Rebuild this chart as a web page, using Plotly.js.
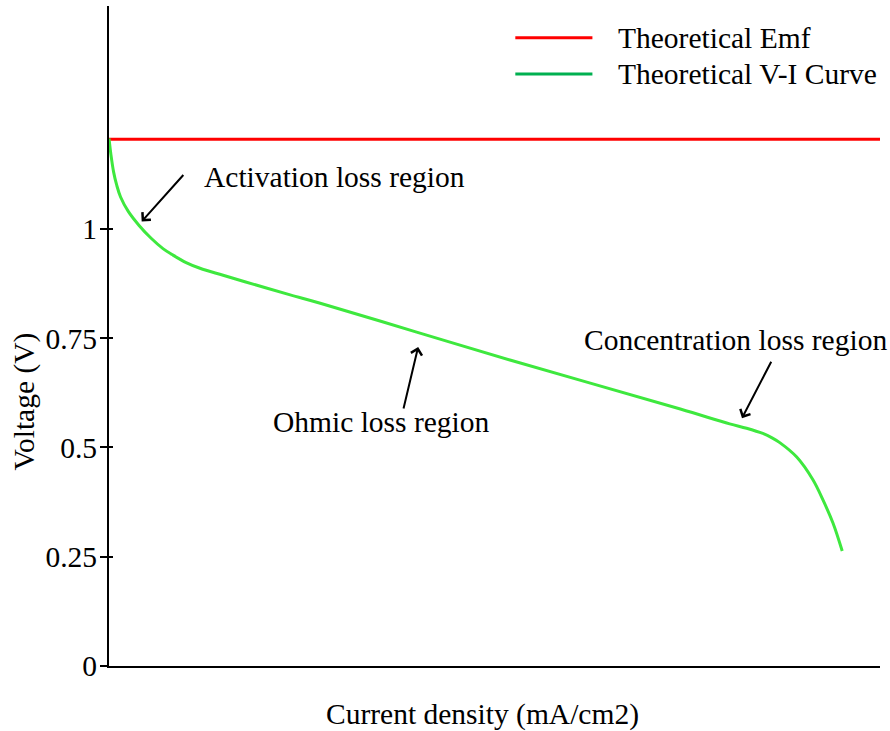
<!DOCTYPE html>
<html>
<head>
<meta charset="utf-8">
<script src="https://cdn.plot.ly/plotly-3.0.1.min.js"></script>
<style>html,body{margin:0;padding:0;background:#fff;}#chart{width:890px;height:731px;}</style>
</head>
<body>
<div id="chart"></div>
<script>
// Data (x in arbitrary current-density units 0..100)
const emfX = [0, 100];
const emfY = [1.205, 1.205];
const viX = [0, 0.25, 0.6, 1.0, 1.5, 2.5, 3.9, 5.5, 7.0, 8.3, 10.0, 11.8, 14.8, 19.2, 23.5, 27.4, 39.9, 52.0, 74.1, 80.5, 82.7, 84.8, 86.0, 87.0, 89.2, 91.3, 92.6, 93.9, 95.1];
const viY = [1.207, 1.17, 1.13, 1.100, 1.073, 1.040, 1.008, 0.978, 0.955, 0.940, 0.923, 0.910, 0.894, 0.871, 0.849, 0.830, 0.764, 0.700, 0.588, 0.554, 0.544, 0.532, 0.522, 0.511, 0.478, 0.426, 0.380, 0.327, 0.263];
const yTickVals = [0, 0.25, 0.5, 0.75, 1];
const yTickText = ['0', '0.25', '0.5', '0.75', '1'];
const seriesNames = ['Theoretical Emf', 'Theoretical V-I Curve'];
const regionLabels = ['Activation loss region', 'Ohmic loss region', 'Concentration loss region'];
const regionTextX = [29.3, 35.3, 81.2];
const regionTextY = [1.119, 0.558, 0.746];
const regionTipX = [4.24, 40.1, 82.1];
const regionTipY = [1.017, 0.730, 0.567];
const xTitle = 'Current density (mA/cm2)';
const yTitle = 'Voltage (V)';

const FONT = 'Liberation Serif, Times New Roman, serif';
const FS = 29.5;
const curveGreen = '#3ee83e';
const legendColors = ['#ff0000', '#00b050'];

const traces = [
  {x: emfX, y: emfY, type: 'scatter', mode: 'lines', name: seriesNames[0],
   line: {color: '#ff0000', width: 3}, showlegend: false, hoverinfo: 'skip'},
  {x: viX, y: viY, type: 'scatter', mode: 'lines', name: seriesNames[1],
   line: {color: curveGreen, width: 3, shape: 'spline', smoothing: 1}, showlegend: false}
];

// arrow tails offsets (px) from tips
const arrowAX = [43, -15, 30];
const arrowAY = [-48, 63, -58];

const annotations = [];
for (let i = 0; i < regionLabels.length; i++) {
  annotations.push({x: regionTextX[i], y: regionTextY[i], xref: 'x', yref: 'y', text: regionLabels[i],
    showarrow: false, xanchor: 'center', yanchor: 'middle', font: {family: FONT, size: FS, color: '#000'}});
  annotations.push({x: regionTipX[i], y: regionTipY[i], xref: 'x', yref: 'y', text: '',
    showarrow: true, arrowhead: 4, arrowsize: 1.1, arrowwidth: 2, arrowcolor: '#000',
    ax: arrowAX[i], ay: arrowAY[i], standoff: 0});
}
// legend (drawn manually)
const legY = [0.952, 0.897];
const shapes = [];
for (let i = 0; i < seriesNames.length; i++) {
  shapes.push({type: 'line', xref: 'paper', yref: 'paper', x0: 0.527, x1: 0.627, y0: legY[i], y1: legY[i],
    line: {color: legendColors[i], width: 3}});
  annotations.push({x: 0.657, y: legY[i], xref: 'paper', yref: 'paper', text: seriesNames[i],
    showarrow: false, xanchor: 'left', yanchor: 'middle', font: {family: FONT, size: FS, color: '#000'}});
}
// axis titles
annotations.push({x: 0.484, y: -0.045, xref: 'paper', yref: 'paper', text: xTitle, showarrow: false,
  xanchor: 'center', yanchor: 'top', font: {family: FONT, size: FS, color: '#000'}});
annotations.push({x: -0.11, y: 0.401, xref: 'paper', yref: 'paper', text: yTitle, showarrow: false,
  textangle: -90, xanchor: 'center', yanchor: 'middle', font: {family: FONT, size: FS, color: '#000'}});

const layout = {
  width: 890, height: 731,
  margin: {l: 109, r: 10, t: 6, b: 65},
  paper_bgcolor: '#fff', plot_bgcolor: '#fff',
  font: {family: FONT, size: FS, color: '#000'},
  showlegend: false,
  xaxis: {range: [0, 100], showgrid: false, zeroline: false, showline: true, linecolor: '#000', linewidth: 2,
    ticks: '', showticklabels: false},
  yaxis: {range: [0, 1.51], showgrid: false, zeroline: false, showline: true, linecolor: '#000', linewidth: 2,
    ticks: 'outside', ticklen: 7, tickwidth: 2, tickcolor: '#000', tickvals: yTickVals, ticktext: yTickText,
    ticklabelstandoff: -3, tickfont: {family: FONT, size: FS, color: '#000'}},
  yaxis2: {range: [0, 1.51], overlaying: 'y', side: 'left', anchor: 'x', showgrid: false, zeroline: false,
    showline: false, ticks: 'inside', ticklen: 4, tickwidth: 2, tickcolor: '#000', tickvals: yTickVals,
    showticklabels: false},
  annotations: annotations,
  shapes: shapes
};
traces.push({x: [null], y: [null], yaxis: 'y2', type: 'scatter', mode: 'lines', showlegend: false, hoverinfo: 'skip'});

Plotly.newPlot('chart', traces, layout, {displayModeBar: false, staticPlot: true});
</script>
</body>
</html>
